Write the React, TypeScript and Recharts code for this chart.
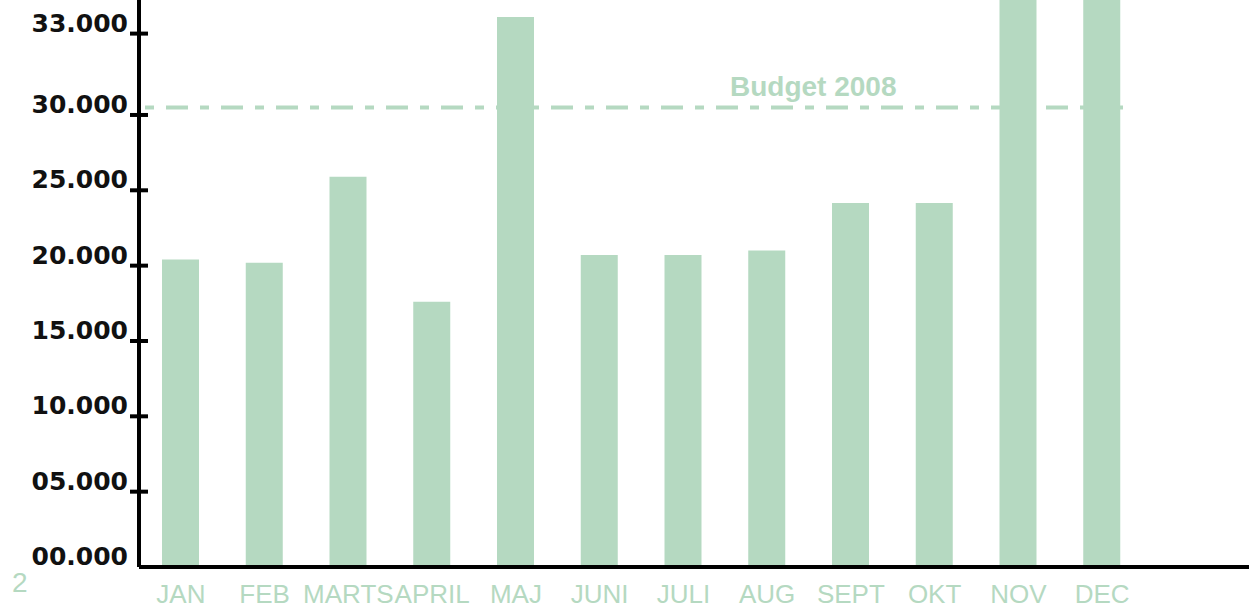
import { BarChart, Bar, XAxis, YAxis, ReferenceLine } from 'recharts'

// Måneder og salg
const months = ['JAN', 'FEB', 'MARTS', 'APRIL', 'MAJ', 'JUNI', 'JULI', 'AUG', 'SEPT', 'OKT', 'NOV', 'DEC']
const sales = [20400, 20200, 25900, 17600, 36500, 20700, 20700, 21000, 24150, 24150, 40000, 40000]

const budget = 30500
const budgetLabel = 'Budget 2008'

const yTicks = [0, 5000, 10000, 15000, 20000, 25000, 30000, 35400]
const yTickLabels = ['00.000', '05.000', '10.000', '15.000', '20.000', '25.000', '30.000', '33.000']

const green = '#b5d9c1'

const data = months.map((m, i) => ({ month: m, sales: sales[i] }))

function YTick(props: any) {
  const { x, y, payload } = props
  const i = yTicks.indexOf(payload.value)
  return (
    <g>
      {payload.value !== 0 && <line x1={x - 9} x2={x + 9} y1={y} y2={y} stroke="#000" strokeWidth={4} />}
      <text x={x - 11} y={y - 2} textAnchor="end" fontFamily="DejaVu Sans" fontWeight="bold" fontSize={25} fill="#111">
        {yTickLabels[i]}
      </text>
    </g>
  )
}

function XTick(props: any) {
  const { x, y, payload } = props
  return (
    <text x={x} y={y + 36} textAnchor="middle" fontFamily="Liberation Sans" fontSize={26} fill={green}>
      {payload.value}
    </text>
  )
}

function BudgetLabel(props: any) {
  const { viewBox } = props
  return (
    <text x={viewBox.x + 591} y={viewBox.y - 11} fontFamily="Liberation Sans" fontWeight="bold" fontSize={28} fill={green}>
      {budgetLabel}
    </text>
  )
}

// dashed budget line, stops a bit before the end of the x axis
function BudgetLine(props: any) {
  const { x1, y1 } = props
  return (
    <line x1={x1 + 6} x2={x1 + 996} y1={y1} y2={y1} stroke={green} strokeWidth={4} strokeDasharray="9 12 22 12" />
  )
}

export default function App() {
  return (
    <div style={{ position: 'absolute', left: 0, top: 0, width: 1249, height: 609, background: '#fff' }}>
      <BarChart width={1249} height={609} data={data} margin={{ top: 0, right: 0, bottom: 0, left: 0 }} barSize={37}>
        <XAxis
          dataKey="month"
          height={42}
          padding={{ left: 0, right: 105 }}
          axisLine={{ stroke: '#000', strokeWidth: 4 }}
          tickLine={false}
          tickSize={0}
          tickMargin={0}
          interval={0}
          tick={<XTick />}
        />
        <YAxis
          width={139}
          domain={[0, 37630]}
          allowDataOverflow
          ticks={yTicks}
          interval={0}
          axisLine={{ stroke: '#000', strokeWidth: 4 }}
          tickLine={false}
          tickSize={0}
          tickMargin={0}
          tick={<YTick />}
        />
        <Bar dataKey="sales" fill={green} isAnimationActive={false} />
        <ReferenceLine y={budget} shape={<BudgetLine />} label={<BudgetLabel />} />
      </BarChart>
      <div style={{ position: 'absolute', left: 12, top: 569, fontFamily: 'Liberation Sans', fontSize: 28, lineHeight: '28px', color: green }}>
        2
      </div>
    </div>
  )
}
